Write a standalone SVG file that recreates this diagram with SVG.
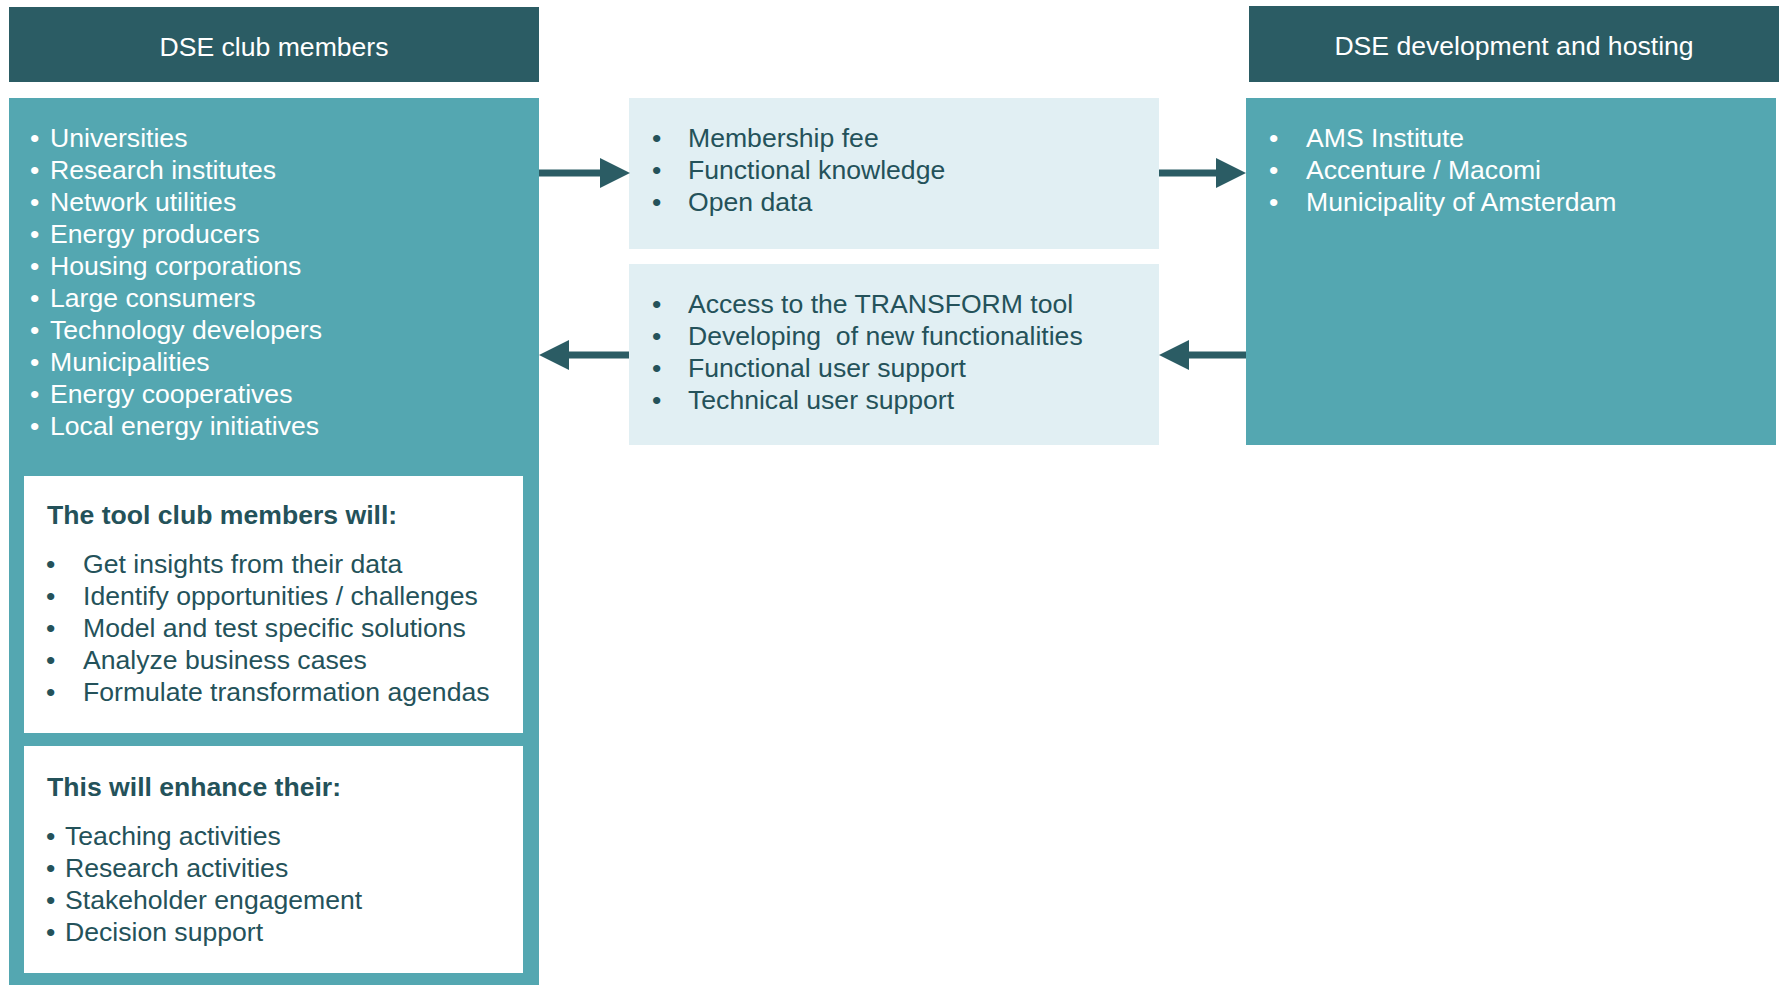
<svg xmlns="http://www.w3.org/2000/svg" width="1783" height="985" viewBox="0 0 1783 985">
  <style>
    .hdr { fill: #2B5C64; }
    .teal { fill: #54A7B1; }
    .pale { fill: #E1EFF3; }
    .card { fill: #FFFFFF; }
    text { font-family: "Liberation Sans", Arial, sans-serif; font-size: 26.6px; white-space: pre; }
    .title { fill: #FFFFFF; text-anchor: middle; }
    .light { fill: #FFFFFF; }
    .dark { fill: #24525A; }
    .bold { font-weight: bold; }
    .link { stroke: #2B5C64; stroke-width: 7; fill: none; marker-end: url(#head); }
  </style>
  <defs>
    <marker id="head" markerUnits="userSpaceOnUse" markerWidth="30" markerHeight="30" refX="0" refY="15" orient="auto">
      <path d="M0,0 L30,15 L0,30 Z" fill="#2B5C64"/>
    </marker>
  </defs>

  <!-- Left column: club members -->
  <g id="members-header">
    <rect class="hdr" x="9" y="7" width="530" height="75"/>
    <text class="title" x="274" y="56">DSE club members</text>
  </g>

  <g id="members">
    <rect class="teal" x="9" y="98" width="530" height="887"/>
    <g class="light">
      <text x="30" y="147">•</text><text x="50" y="147">Universities</text>
      <text x="30" y="179">•</text><text x="50" y="179">Research institutes</text>
      <text x="30" y="211">•</text><text x="50" y="211">Network utilities</text>
      <text x="30" y="243">•</text><text x="50" y="243">Energy producers</text>
      <text x="30" y="275">•</text><text x="50" y="275">Housing corporations</text>
      <text x="30" y="307">•</text><text x="50" y="307">Large consumers</text>
      <text x="30" y="339">•</text><text x="50" y="339">Technology developers</text>
      <text x="30" y="371">•</text><text x="50" y="371">Municipalities</text>
      <text x="30" y="403">•</text><text x="50" y="403">Energy cooperatives</text>
      <text x="30" y="435">•</text><text x="50" y="435">Local energy initiatives</text>
    </g>
  </g>

  <g id="members-will">
    <rect class="card" x="24" y="476" width="499" height="257"/>
    <g class="dark">
      <text class="bold" x="47" y="524">The tool club members will:</text>
      <text x="46" y="573">•</text><text x="83" y="573">Get insights from their data</text>
      <text x="46" y="605">•</text><text x="83" y="605">Identify opportunities / challenges</text>
      <text x="46" y="637">•</text><text x="83" y="637">Model and test specific solutions</text>
      <text x="46" y="669">•</text><text x="83" y="669">Analyze business cases</text>
      <text x="46" y="701">•</text><text x="83" y="701">Formulate transformation agendas</text>
    </g>
  </g>

  <g id="enhance">
    <rect class="card" x="24" y="746" width="499" height="227"/>
    <g class="dark">
      <text class="bold" x="47" y="796">This will enhance their:</text>
      <text x="46" y="845">•</text><text x="65" y="845">Teaching activities</text>
      <text x="46" y="877">•</text><text x="65" y="877">Research activities</text>
      <text x="46" y="909">•</text><text x="65" y="909">Stakeholder engagement</text>
      <text x="46" y="941">•</text><text x="65" y="941">Decision support</text>
    </g>
  </g>

  <!-- Middle column: exchanged items -->
  <g id="contributions">
    <rect class="pale" x="629" y="98" width="530" height="151"/>
    <g class="dark">
      <text x="652" y="147">•</text><text x="688" y="147">Membership fee</text>
      <text x="652" y="179">•</text><text x="688" y="179">Functional knowledge</text>
      <text x="652" y="211">•</text><text x="688" y="211">Open data</text>
    </g>
  </g>

  <g id="services">
    <rect class="pale" x="629" y="264" width="530" height="181"/>
    <g class="dark">
      <text x="652" y="313">•</text><text x="688" y="313">Access to the TRANSFORM tool</text>
      <text x="652" y="345">•</text><text x="688" y="345" xml:space="preserve">Developing  of new functionalities</text>
      <text x="652" y="377">•</text><text x="688" y="377">Functional user support</text>
      <text x="652" y="409">•</text><text x="688" y="409">Technical user support</text>
    </g>
  </g>

  <!-- Right column: development and hosting -->
  <g id="hosting-header">
    <rect class="hdr" x="1249" y="6" width="530" height="76"/>
    <text class="title" x="1514" y="55">DSE development and hosting</text>
  </g>

  <g id="hosting">
    <rect class="teal" x="1246" y="98" width="530" height="347"/>
    <g class="light">
      <text x="1269" y="147">•</text><text x="1306" y="147">AMS Institute</text>
      <text x="1269" y="179">•</text><text x="1306" y="179">Accenture / Macomi</text>
      <text x="1269" y="211">•</text><text x="1306" y="211">Municipality of Amsterdam</text>
    </g>
  </g>

  <!-- Flows between the columns -->
  <g id="connectors">
    <line class="link" x1="539" y1="173" x2="600" y2="173"/>
    <line class="link" x1="1159" y1="173" x2="1216" y2="173"/>
    <line class="link" x1="1246" y1="355" x2="1189" y2="355"/>
    <line class="link" x1="629" y1="355" x2="569" y2="355"/>
  </g>
</svg>
